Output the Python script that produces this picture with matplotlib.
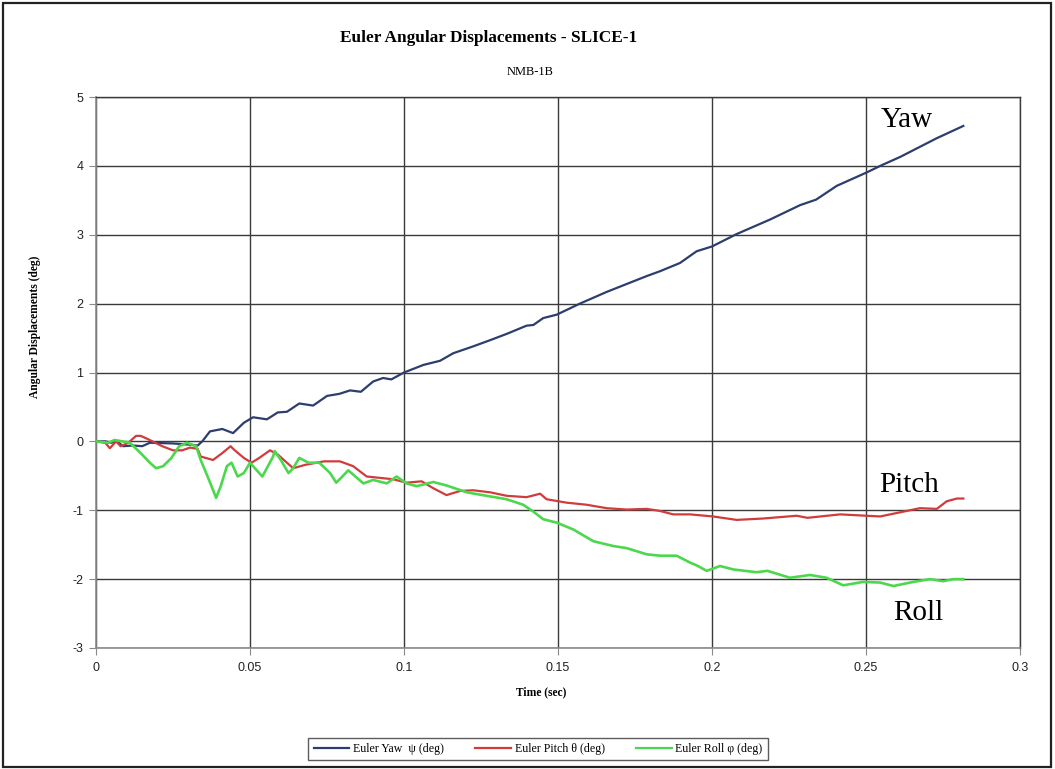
import matplotlib
matplotlib.use("Agg")
import matplotlib.pyplot as plt
from matplotlib.patches import Rectangle

plt.rcParams["axes.unicode_minus"] = False

# ---- data ----
yaw_t = [0, 0.003, 0.005, 0.0065, 0.0088, 0.012, 0.015, 0.0175, 0.025, 0.031, 0.033,
         0.0345, 0.037, 0.041, 0.0445, 0.048, 0.051, 0.0555, 0.059, 0.062, 0.066,
         0.0705, 0.075, 0.079, 0.0825, 0.086, 0.090, 0.0932, 0.0959, 0.100, 0.1063,
         0.1117, 0.116, 0.1225, 0.128, 0.1333, 0.1398, 0.142, 0.1452, 0.1496, 0.1571,
         0.1658, 0.1788, 0.1831, 0.1896, 0.195, 0.200, 0.208, 0.2188, 0.2286, 0.2338,
         0.2405, 0.25, 0.2551, 0.2611, 0.2729, 0.2816]
yaw_v = [0, 0.0, -0.02, 0.01, -0.07, -0.06, -0.07, -0.02, -0.03, -0.05, -0.06,
         0.0, 0.145, 0.18, 0.12, 0.27, 0.35, 0.32, 0.42, 0.43, 0.55,
         0.52, 0.66, 0.69, 0.74, 0.72, 0.87, 0.92, 0.90, 1.0, 1.11,
         1.17, 1.28, 1.38, 1.47, 1.56, 1.68, 1.69, 1.79, 1.84, 2.0,
         2.17, 2.40, 2.47, 2.59, 2.76, 2.83, 3.01, 3.22, 3.43, 3.51,
         3.71, 3.90, 4.01, 4.13, 4.40, 4.58]

pitch_t = [0, 0.003, 0.0045, 0.0065, 0.008, 0.0105, 0.013, 0.0145, 0.017, 0.0215,
           0.025, 0.028, 0.0305, 0.033, 0.034, 0.038, 0.041, 0.0437, 0.0448, 0.048,
           0.0505, 0.053, 0.0565, 0.059, 0.062, 0.064, 0.068, 0.074, 0.0792, 0.0835,
           0.0879, 0.0922, 0.0965, 0.1008, 0.1057, 0.1095, 0.1138, 0.1182, 0.1225,
           0.128, 0.1333, 0.1398, 0.1442, 0.1463, 0.1528, 0.1593, 0.1658, 0.1723,
           0.1788, 0.1831, 0.1874, 0.1929, 0.2003, 0.208, 0.2166, 0.2275, 0.231,
           0.2416, 0.2502, 0.2546, 0.26, 0.2675, 0.273, 0.2762, 0.2795, 0.2816]
pitch_v = [0, -0.02, -0.1, 0.0, -0.07, -0.02, 0.08, 0.08, 0.03, -0.07,
           -0.13, -0.13, -0.09, -0.11, -0.22, -0.27, -0.17, -0.07, -0.12, -0.24,
           -0.31, -0.24, -0.13, -0.19, -0.31, -0.39, -0.34, -0.29, -0.29, -0.36,
           -0.51, -0.53, -0.55, -0.60, -0.58, -0.68, -0.78, -0.72, -0.71,
           -0.74, -0.79, -0.81, -0.76, -0.84, -0.89, -0.92, -0.97, -0.99,
           -0.98, -1.01, -1.06, -1.06, -1.09, -1.14, -1.12, -1.08, -1.11,
           -1.06, -1.08, -1.09, -1.04, -0.97, -0.98, -0.87, -0.83, -0.83]

roll_t = [0, 0.004, 0.006, 0.0086, 0.011, 0.0145, 0.0175, 0.0195, 0.0218, 0.0245,
          0.027, 0.0295, 0.0325, 0.034, 0.0366, 0.039, 0.0405, 0.0425, 0.044, 0.046,
          0.048, 0.050, 0.054, 0.0575, 0.058, 0.060, 0.0625, 0.064, 0.066, 0.069,
          0.0725, 0.076, 0.078, 0.080, 0.0819, 0.0868, 0.0900, 0.0944, 0.0976,
          0.1008, 0.1041, 0.1095, 0.1138, 0.1204, 0.1268, 0.1333, 0.1387, 0.142,
          0.1452, 0.1496, 0.155, 0.1615, 0.168, 0.1723, 0.1788, 0.1831, 0.1885,
          0.1929, 0.195, 0.1983, 0.2026, 0.207, 0.2145, 0.218, 0.2253, 0.2318,
          0.2372, 0.2426, 0.2491, 0.2546, 0.2589, 0.2654, 0.2708, 0.2751, 0.2784, 0.2816]
roll_v = [0, -0.02, 0.02, 0.0, -0.02, -0.17, -0.31, -0.39, -0.36, -0.24,
          -0.07, -0.02, -0.07, -0.27, -0.55, -0.82, -0.65, -0.36, -0.31, -0.51,
          -0.46, -0.31, -0.51, -0.22, -0.14, -0.27, -0.46, -0.39, -0.24, -0.31,
          -0.31, -0.46, -0.60, -0.51, -0.42, -0.61, -0.56, -0.61, -0.51,
          -0.61, -0.65, -0.59, -0.64, -0.74, -0.79, -0.84, -0.92, -1.02,
          -1.13, -1.18, -1.28, -1.45, -1.52, -1.55, -1.64, -1.66, -1.66,
          -1.76, -1.80, -1.88, -1.81, -1.86, -1.90, -1.88, -1.98, -1.94,
          -1.98, -2.09, -2.04, -2.05, -2.10, -2.04, -2.0, -2.03, -2.0, -2.0]

x_ticks = [0, 0.05, 0.1, 0.15, 0.2, 0.25, 0.3]
x_ticklabels = ["0", "0.05", "0.1", "0.15", "0.2", "0.25", "0.3"]
y_ticks = [-3, -2, -1, 0, 1, 2, 3, 4, 5]

labels = ["Euler Yaw  \u03c8 (deg)", "Euler Pitch \u03b8 (deg)", "Euler Roll \u03c6 (deg)"]
colors = ["#2c3e6e", "#d03c3c", "#4cd84c"]

W, H = 1055, 769
fig = plt.figure(figsize=(W / 100, H / 100), dpi=100)
fig.patch.set_facecolor("white")

def fx(px):
    return px / W

def fy(py):
    return 1 - py / H

ax = fig.add_axes([fx(96), fy(648), fx(1020) - fx(96), fy(97) - fy(648)])

ax.plot(yaw_t, yaw_v, color=colors[0], lw=1.6, label=labels[0], zorder=3)
ax.plot(pitch_t, pitch_v, color=colors[1], lw=1.6, label=labels[1], zorder=3)
ax.plot(roll_t, roll_v, color=colors[2], lw=1.9, label=labels[2], zorder=3)

ax.set_xlim(0, 0.3)
ax.set_ylim(-3, 5)
ax.set_xticks(x_ticks)
ax.set_xticklabels(x_ticklabels)
ax.set_yticks(y_ticks)
ax.grid(True, color="#3a3a3a", lw=1.0)
ax.set_axisbelow(True)
for s in ["top", "right"]:
    ax.spines[s].set_color("#3a3a3a")
    ax.spines[s].set_linewidth(1.0)
for s in ["left", "bottom"]:
    ax.spines[s].set_color("#8a8a8a")
    ax.spines[s].set_linewidth(1.2)
ax.tick_params(direction="out", length=5, color="#8a8a8a", labelsize=9,
               labelcolor="#222222")
for lab in ax.get_xticklabels() + ax.get_yticklabels():
    lab.set_family("Liberation Sans")
ax.tick_params(axis="x", pad=5)
ax.tick_params(axis="y", pad=4)

serif = "Liberation Serif"
fig.text(fx(489), fy(38), "Euler Angular Displacements - SLICE-1", ha="center",
         va="center", family=serif, weight="bold", fontsize=12.4)
fig.text(fx(530), fy(72), "NMB-1B", ha="center", va="center", family=serif,
         fontsize=9)
fig.text(fx(35), fy(327), "Angular Displacements (deg)", rotation=90, ha="center",
         va="center", family=serif, weight="bold", fontsize=8.3)
fig.text(fx(541), fy(692), "Time (sec)", ha="center", va="center", family=serif,
         weight="bold", fontsize=8.3)

ax.text(0.2633, 4.567, "Yaw", ha="center", va="baseline", family=serif, fontsize=21)
ax.text(0.2640, -0.73, "Pitch", ha="center", va="baseline", family=serif, fontsize=21)
ax.text(0.2669, -2.59, "Roll", ha="center", va="baseline", family=serif, fontsize=21)

leg = fig.legend(loc="center", bbox_to_anchor=(fx(538), fy(749)), ncol=3,
                 prop={"family": serif, "size": 8.6}, frameon=True, fancybox=False,
                 edgecolor="#333333", handlelength=3.0, columnspacing=2.6,
                 handletextpad=0.3, borderpad=0.45, borderaxespad=0.0)
leg.get_frame().set_linewidth(1.0)
for line in leg.get_lines():
    line.set_linewidth(1.6)

fig.patches.append(Rectangle((fx(3), fy(767)), fx(1051) - fx(3), fy(3) - fy(767),
                             transform=fig.transFigure, fill=False,
                             edgecolor="#222222", lw=1.6))

fig.savefig("out.png", dpi=100)
